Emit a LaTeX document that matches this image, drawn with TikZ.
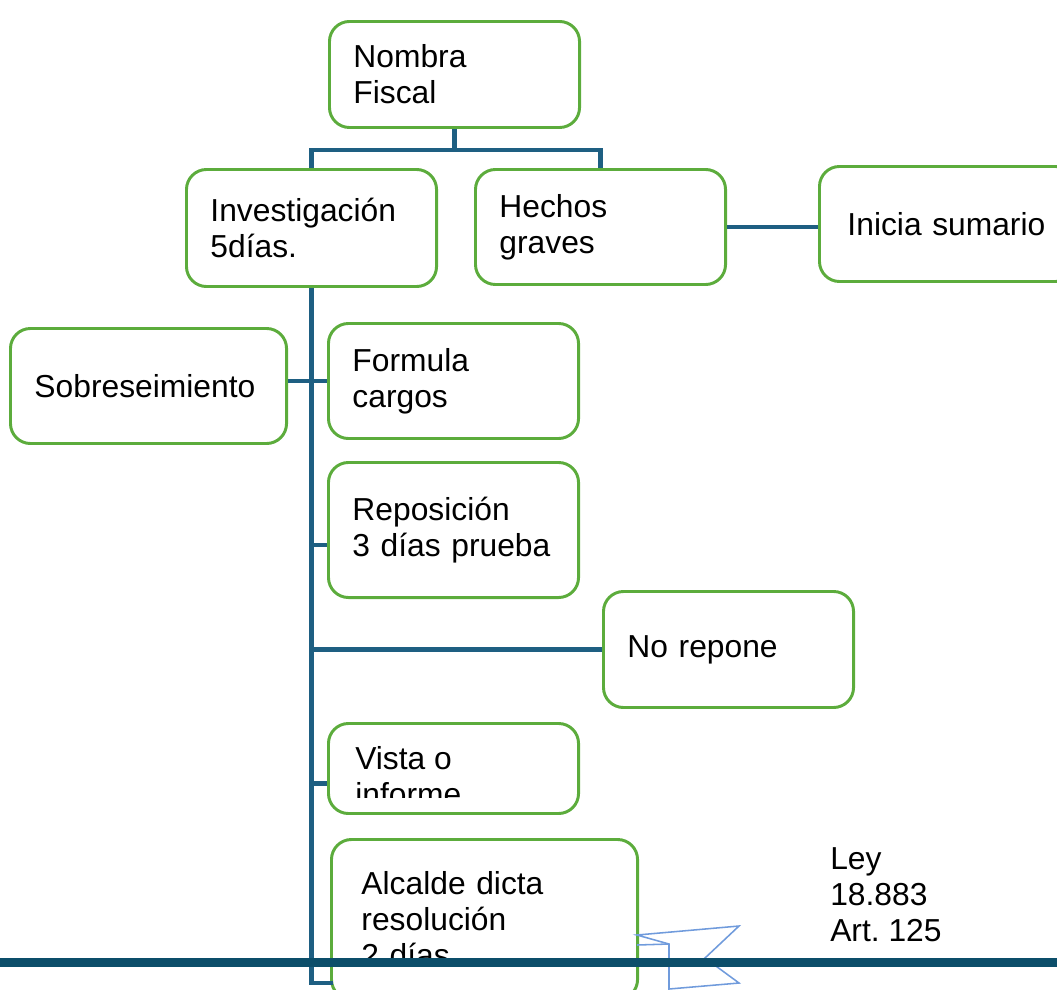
\documentclass[tikz,border=0pt]{standalone}
\usepackage{fontspec}
\setmainfont{Liberation Sans}
\frenchspacing
\usetikzlibrary{calc}
\definecolor{BoxGreen}{RGB}{92,172,60}
\definecolor{LinkBlue}{RGB}{30,95,130}
\definecolor{BarBlue}{RGB}{12,78,106}
\definecolor{FlagBlue}{RGB}{112,155,220}
\tikzstyle{StepBox}=[rectangle, draw=BoxGreen, line width=2.1pt, rounded corners=0.5cm, fill=white, anchor=north west, align=left, inner xsep=0.6cm, inner ysep=0pt, text width=5.05cm, minimum height=2.875cm]
\tikzstyle{Label}=[anchor=north west, align=left, inner sep=0pt]
\tikzstyle{Link}=[draw=LinkBlue, line width=3.5pt]
\tikzstyle{Bar}=[draw=BarBlue, line width=6.4pt]
\tikzstyle{Flag}=[draw=FlagBlue, line width=1.1pt, line join=miter]
\begin{document}
\begin{tikzpicture}[x=0.025cm, y=-0.025cm, font=\fontsize{22.6pt}{25.6pt}\selectfont]
\useasboundingbox (0,0) rectangle (1057,989);
\clip (0,0) rectangle (1057,989);

\node[StepBox, minimum height=2.65cm](Nombra) at (328,20) {Nombra\\Fiscal};
\node[StepBox, minimum height=2.925cm](Invest) at (185,168) {Investigación\\5días.};
\node[StepBox](Hechos) at (474,168) {Hechos\\graves};
\node[StepBox, inner xsep=0.7cm, text width=5cm](Inicia) at (818,165) {Inicia sumario};
\node[StepBox, text width=5.7cm](Sobre) at (9,327) {Sobreseimiento};
\node[StepBox](Formula) at (327,322) {Formula\\cargos};
\node[StepBox, minimum height=3.375cm](Repos) at (327,461) {Reposición\\3 días prueba};
\node[StepBox, minimum height=2.9cm](NoRepone) at (602,590) {No repone};
\node[StepBox, minimum height=2.25cm](Vista) at (327,722) {};
\begin{scope}
\clip (330,724) rectangle (575,797);
\node[Label](VistaText) at (355,746) {Vista o\\informe};
\end{scope}
\node[StepBox, inner xsep=0.75cm, text width=6.15cm, minimum height=4cm](Alcalde) at (330,838) {Alcalde dicta\\resolución\\2 días};
\node[Label](LeyNote) at (830,847) {Ley\\18.883\\Art. 125};

\coordinate (TrunkEnd) at (333,983);
\draw[Link](Nombra.south) -- ++(0,21) -| (Invest.north);
\draw[Link](Nombra.south) -- ++(0,21) -| (Hechos.north);
\draw[Link](Hechos.east) -- (Hechos.east -| Inicia.west);
\draw[Link](Invest.south) |- (TrunkEnd);
\draw[Link](Sobre.east |- Formula.west) -- (Formula.west);
\draw[Link](Repos.west) ++(0,15) -- ++(-18,0);
\draw[Link](NoRepone.west) -- (Invest.south |- NoRepone.west);
\draw[Link](Vista.west) ++(0,15) -- ++(-18,0);

\draw[Flag](637,935) -- (739,926) -- (705,958) -- (739,983) -- (669,989) -- (669,944) -- cycle;
\draw[Flag](637,945) -- (669,944);
\draw[Bar](0,962) -- (1057,962);
\end{tikzpicture}
\end{document}
